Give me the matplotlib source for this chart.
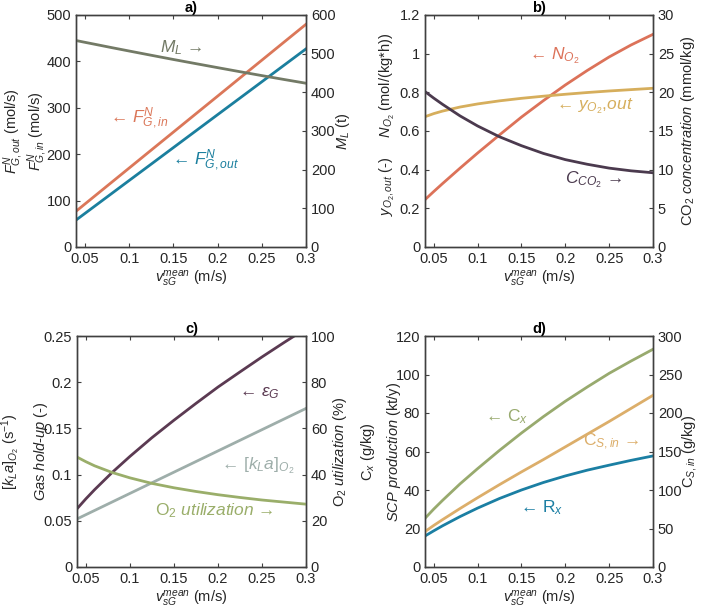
import matplotlib
matplotlib.use("Agg")
import matplotlib.pyplot as plt

plt.rcParams['font.family'] = ['Liberation Sans', 'DejaVu Sans']
plt.rcParams['mathtext.fontset'] = 'custom'
plt.rcParams['mathtext.rm'] = 'Liberation Sans'
plt.rcParams['mathtext.it'] = 'Liberation Sans:italic'
plt.rcParams['mathtext.bf'] = 'Liberation Sans:bold'
plt.rcParams['font.size'] = 10.5

# ---------------- data ----------------
v_sg = [0.04, 0.05, 0.06, 0.08, 0.10, 0.125, 0.15, 0.175, 0.20, 0.225, 0.25, 0.275, 0.30]

# panel a
F_in = [77, 92.5, 108, 139, 170, 208.8, 247.5, 286.3, 325, 363.8, 402.5, 441.3, 480]      # mol/s
F_out = [58, 72.2, 86.4, 114.8, 143.2, 178.6, 214.1, 249.6, 285.1, 320.5, 356, 391.5, 427]  # mol/s
M_L = [534, 529.4, 524.9, 515.8, 506.9, 495.9, 485.0, 474.4, 463.9, 453.5, 443.3, 433.3, 423.5]  # t

# panel b
N_O2 = [0.245, 0.287, 0.328, 0.408, 0.486, 0.580, 0.672, 0.757, 0.838, 0.913, 0.983, 1.045, 1.10]
y_O2 = [0.674, 0.690, 0.703, 0.724, 0.740, 0.756, 0.769, 0.780, 0.790, 0.799, 0.807, 0.814, 0.821]
C_CO2 = [20.1, 19.25, 18.45, 16.95, 15.65, 14.25, 13.1, 12.1, 11.3, 10.7, 10.2, 9.85, 9.6]  # mmol/kg

# panel c
eps_G = [0.063, 0.0737, 0.0837, 0.1024, 0.1196, 0.1399, 0.1588, 0.1770, 0.1947, 0.2111, 0.2273, 0.2429, 0.2581]
kLa = [0.052, 0.0566, 0.0612, 0.0704, 0.0796, 0.0911, 0.1026, 0.1141, 0.1256, 0.1371, 0.1486, 0.1601, 0.1716]
O2_util = [47.6, 45.6, 43.8, 40.9, 38.6, 36.2, 34.3, 32.7, 31.3, 30.1, 29.0, 28.1, 27.2]  # %

# panel d
C_x = [25.3, 30.1, 34.6, 43.2, 51.1, 60.6, 69.6, 78.1, 86.1, 93.5, 100.6, 107.0, 113.1]    # g/kg
R_x = [16.1, 18.8, 21.4, 26.2, 30.6, 35.6, 40.0, 43.9, 47.3, 50.3, 52.9, 55.4, 57.7]       # kt/y
C_S_in = [46, 54, 61.5, 76, 90, 107, 123.5, 139.5, 156, 172.5, 189, 206, 223]             # g/kg

x_ticks = [0.05, 0.1, 0.15, 0.2, 0.25, 0.3]
x_ticklabels = ['0.05', '0.1', '0.15', '0.2', '0.25', '0.3']

# ---------------- colours ----------------
c_fin = '#db7759'
c_fout = '#1b7f9e'
c_ml = '#737a66'
c_no2 = '#dc7259'
c_yo2 = '#d6ae5c'
c_co2 = '#4b3a4e'
c_eps = '#5b3a52'
c_kla = '#9eaeaa'
c_util = '#9aae6a'
c_cx = '#98aa6e'
c_csin = '#dcae6a'
c_rx = '#1b7fa3'
spine_c = '#404040'
tick_c = '#262626'

W, H = 702, 611
fig = plt.figure(figsize=(W / 100, H / 100), dpi=100)


def make_axes(left_px, top_px, right_px, bottom_px):
    return fig.add_axes([left_px / W, 1 - bottom_px / H, (right_px - left_px) / W, (bottom_px - top_px) / H])


def style(ax, ax2, title):
    for a in (ax, ax2):
        for s in a.spines.values():
            s.set_color(spine_c)
            s.set_linewidth(1.0)
        a.tick_params(direction='in', colors=spine_c, labelcolor=tick_c, length=3, width=0.8)
    ax.tick_params(top=True, right=False)
    ax2.tick_params(left=False, right=True)
    ax.set_xlim(0.04, 0.3)
    ax.set_xticks(x_ticks)
    ax.set_xticklabels(x_ticklabels)
    ax.set_xlabel(r'$v_{sG}^{mean}$ (m/s)', color=tick_c, labelpad=2)
    ax.set_title(title, fontweight='bold', fontsize=10.5, pad=2, color='black')


def vlabel(ax, x, y, s):
    ax.text(x, y, s, transform=ax.transAxes, rotation=90, ha='center', va='center', color=tick_c)


lw = 2.0
afs = 12.5

# ---------------- panel a ----------------
ax = make_axes(76, 15, 306, 247)
ax2 = ax.twinx()
ax.plot(v_sg, F_in, color=c_fin, lw=lw)
ax.plot(v_sg, F_out, color=c_fout, lw=lw)
ax2.plot(v_sg, M_L, color=c_ml, lw=lw)
ax.set_ylim(0, 500)
ax2.set_ylim(0, 600)
ax.set_yticks([0, 100, 200, 300, 400, 500])
ax2.set_yticks([0, 100, 200, 300, 400, 500, 600])
style(ax, ax2, 'a)')
vlabel(ax, -0.27, 0.5, r'$F^N_{G,out}$ (mol/s)')
vlabel(ax, -0.165, 0.5, r'$F^N_{G,in}$ (mol/s)')
vlabel(ax, 1.16, 0.5, r'$M_L$ (t)')
ax.text(0.159, 429, r'$M_L$ →', color=c_ml, fontsize=afs, ha='center', va='center')
ax.text(0.112, 278, r'← $F^N_{G,in}$', color=c_fin, fontsize=afs, ha='center', va='center')
ax.text(0.186, 187, r'← $F^N_{G,out}$', color=c_fout, fontsize=afs, ha='center', va='center')

# ---------------- panel b ----------------
ax = make_axes(425, 15, 653, 247)
ax2 = ax.twinx()
ax.plot(v_sg, N_O2, color=c_no2, lw=lw)
ax.plot(v_sg, y_O2, color=c_yo2, lw=lw)
ax2.plot(v_sg, C_CO2, color=c_co2, lw=lw)
ax.set_ylim(0, 1.2)
ax2.set_ylim(0, 30)
ax.set_yticks([0, 0.2, 0.4, 0.6, 0.8, 1.0, 1.2])
ax.set_yticklabels(['0', '0.2', '0.4', '0.6', '0.8', '1', '1.2'])
ax2.set_yticks([0, 5, 10, 15, 20, 25, 30])
style(ax, ax2, 'b)')
vlabel(ax, -0.165, 0.53, r'$y_{O_2,out}$ (-)     $N_{O_2}$ (mol/(kg*h))')
vlabel(ax, 1.155, 0.5, r'CO$_2$ $concentration$ (mmol/kg)')
ax.text(0.188, 0.99, r'← $N_{O_2}$', color=c_no2, fontsize=afs, ha='center', va='center')
ax.text(0.234, 0.73, r'← $y_{O_2}$,$out$', color=c_yo2, fontsize=afs, ha='center', va='center')
ax.text(0.232, 0.35, r'$C_{CO_2}$ →', color=c_co2, fontsize=afs, ha='center', va='center')

# ---------------- panel c ----------------
ax = make_axes(77, 336, 306, 567)
ax2 = ax.twinx()
ax.plot(v_sg, eps_G, color=c_eps, lw=lw)
ax.plot(v_sg, kLa, color=c_kla, lw=lw)
ax2.plot(v_sg, O2_util, color=c_util, lw=lw)
ax.set_ylim(0, 0.25)
ax2.set_ylim(0, 100)
ax.set_yticks([0, 0.05, 0.1, 0.15, 0.2, 0.25])
ax.set_yticklabels(['0', '0.05', '0.1', '0.15', '0.2', '0.25'])
ax2.set_yticks([0, 20, 40, 60, 80, 100])
style(ax, ax2, 'c)')
vlabel(ax, -0.29, 0.5, r'$[k_La]_{O_2}$ (s$^{-1}$)')
vlabel(ax, -0.158, 0.5, r'$Gas$ $hold$-$up$ (-)')
vlabel(ax, 1.148, 0.5, r'O$_2$ $utilization$ (%)')
ax.text(0.247, 0.188, r'← $\epsilon_G$', color=c_eps, fontsize=afs, ha='center', va='center')
ax.text(0.245, 0.110, r'← $[k_La]_{O_2}$', color=c_kla, fontsize=afs, ha='center', va='center')
ax.text(0.196, 0.061, r'O$_2$ $utilization$ →', color=c_util, fontsize=afs, ha='center', va='center')

# ---------------- panel d ----------------
ax = make_axes(425, 336, 653, 567)
ax2 = ax.twinx()
ax.plot(v_sg, C_x, color=c_cx, lw=lw)
ax.plot(v_sg, R_x, color=c_rx, lw=lw)
ax2.plot(v_sg, C_S_in, color=c_csin, lw=lw)
ax.set_ylim(0, 120)
ax2.set_ylim(0, 300)
ax.set_yticks([0, 20, 40, 60, 80, 100, 120])
ax2.set_yticks([0, 50, 100, 150, 200, 250, 300])
style(ax, ax2, 'd)')
vlabel(ax, -0.25, 0.5, r'C$_x$ (g/kg)')
vlabel(ax, -0.135, 0.5, r'$SCP$ $production$ (kt/y)')
vlabel(ax, 1.16, 0.5, r'C$_{S,in}$ (g/kg)')
ax.text(0.133, 78, r'← C$_x$', color=c_cx, fontsize=afs, ha='center', va='center')
ax.text(0.252, 65, r'C$_{S,in}$ →', color=c_csin, fontsize=afs, ha='center', va='center')
ax.text(0.173, 30.6, r'← R$_x$', color=c_rx, fontsize=afs, ha='center', va='center')

fig.savefig('out.png', dpi=100)
